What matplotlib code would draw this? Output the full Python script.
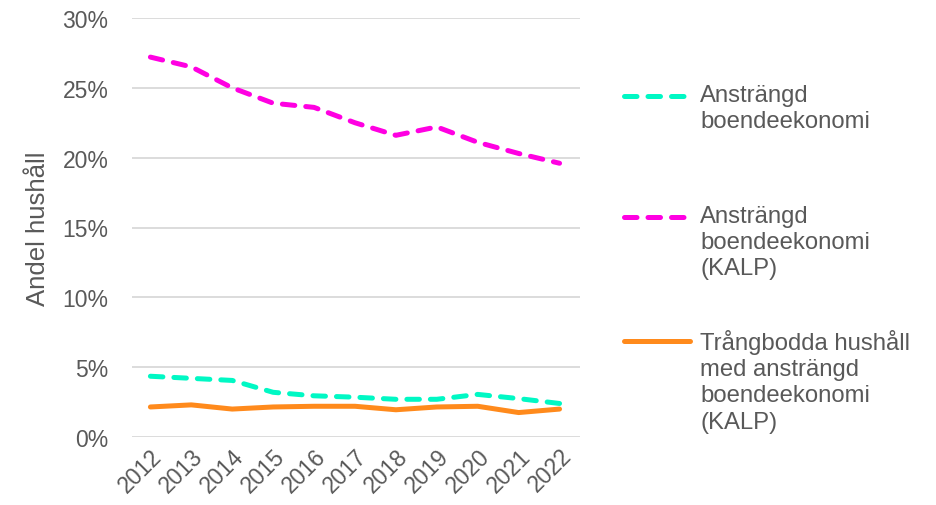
import matplotlib
matplotlib.use("Agg")
import matplotlib.pyplot as plt
from matplotlib.lines import Line2D
from matplotlib.ticker import PercentFormatter

years = ["2012", "2013", "2014", "2015", "2016", "2017", "2018", "2019", "2020", "2021", "2022"]
anstrangd = [4.35, 4.2, 4.05, 3.2, 2.95, 2.85, 2.7, 2.7, 3.05, 2.75, 2.4]
anstrangd_kalp = [27.2, 26.5, 25.0, 23.9, 23.6, 22.5, 21.6, 22.2, 21.1, 20.3, 19.6]
trangbodda_kalp = [2.15, 2.3, 2.0, 2.15, 2.2, 2.2, 1.95, 2.15, 2.2, 1.75, 2.0]
labels = ["Ansträngd\nboendeekonomi",
          "Ansträngd\nboendeekonomi\n(KALP)",
          "Trångbodda hushåll\nmed ansträngd\nboendeekonomi\n(KALP)"]
yticks = [0, 5, 10, 15, 20, 25, 30]

plt.rcParams['font.family'] = ['Liberation Sans', 'DejaVu Sans']
TXT = '#595959'
C_GREEN = '#00F8C4'
C_MAG = '#FF00E2'
C_ORA = '#FF8A1C'

fig = plt.figure(figsize=(9.36, 5.06), dpi=100)
ax = fig.add_axes([132/936, 1-438/506, (580-132)/936, (438-19)/506])

x = list(range(len(years)))
lw = 3.6
ax.plot(x, anstrangd, color=C_GREEN, lw=lw, dashes=(2.5, 2.2), dash_capstyle='round', zorder=3)
ax.plot(x, anstrangd_kalp, color=C_MAG, lw=lw, dashes=(2.5, 2.2), dash_capstyle='round', zorder=3)
ax.plot(x, trangbodda_kalp, color=C_ORA, lw=lw, solid_capstyle='round', zorder=3)

ax.set_ylim(0, 30)
ax.set_xlim(-0.45, 10.5)
ax.set_yticks(yticks)
ax.yaxis.set_major_formatter(PercentFormatter(decimals=0))
ax.set_xticks(x)
ax.set_xticklabels(years, rotation=45, ha='right', va='top', rotation_mode='anchor')
ax.grid(axis='y', color='#D9D9D9', lw=1.3)
ax.set_axisbelow(True)
for s in ax.spines.values():
    s.set_visible(False)
ax.tick_params(axis='both', length=0, labelsize=16.5, colors=TXT)
ax.tick_params(axis='y', pad=17)
ax.tick_params(axis='x', pad=5)
ax.set_ylabel("Andel hushåll", fontsize=18.5, color=TXT, labelpad=9)

# legend
handle_specs = [(C_GREEN, (2.5, 2.2)), (C_MAG, (2.5, 2.2)), (C_ORA, None)]
ys = [97, 218, 342]
for (c, d), yy, lab in zip(handle_specs, ys, labels):
    yf = 1 - yy/506
    if d is None:
        ln = Line2D([624/936, 690/936], [yf, yf], color=c, lw=lw, solid_capstyle='round', transform=fig.transFigure)
    else:
        ln = Line2D([624/936, 690/936], [yf, yf], color=c, lw=lw, dashes=d, dash_capstyle='round', transform=fig.transFigure)
    fig.add_artist(ln)
    fig.text(700/936, 1 - (yy-12)/506, lab, fontsize=17.2, color=TXT, va='top', ha='left', linespacing=1.25)

fig.savefig("out.png", dpi=100)
